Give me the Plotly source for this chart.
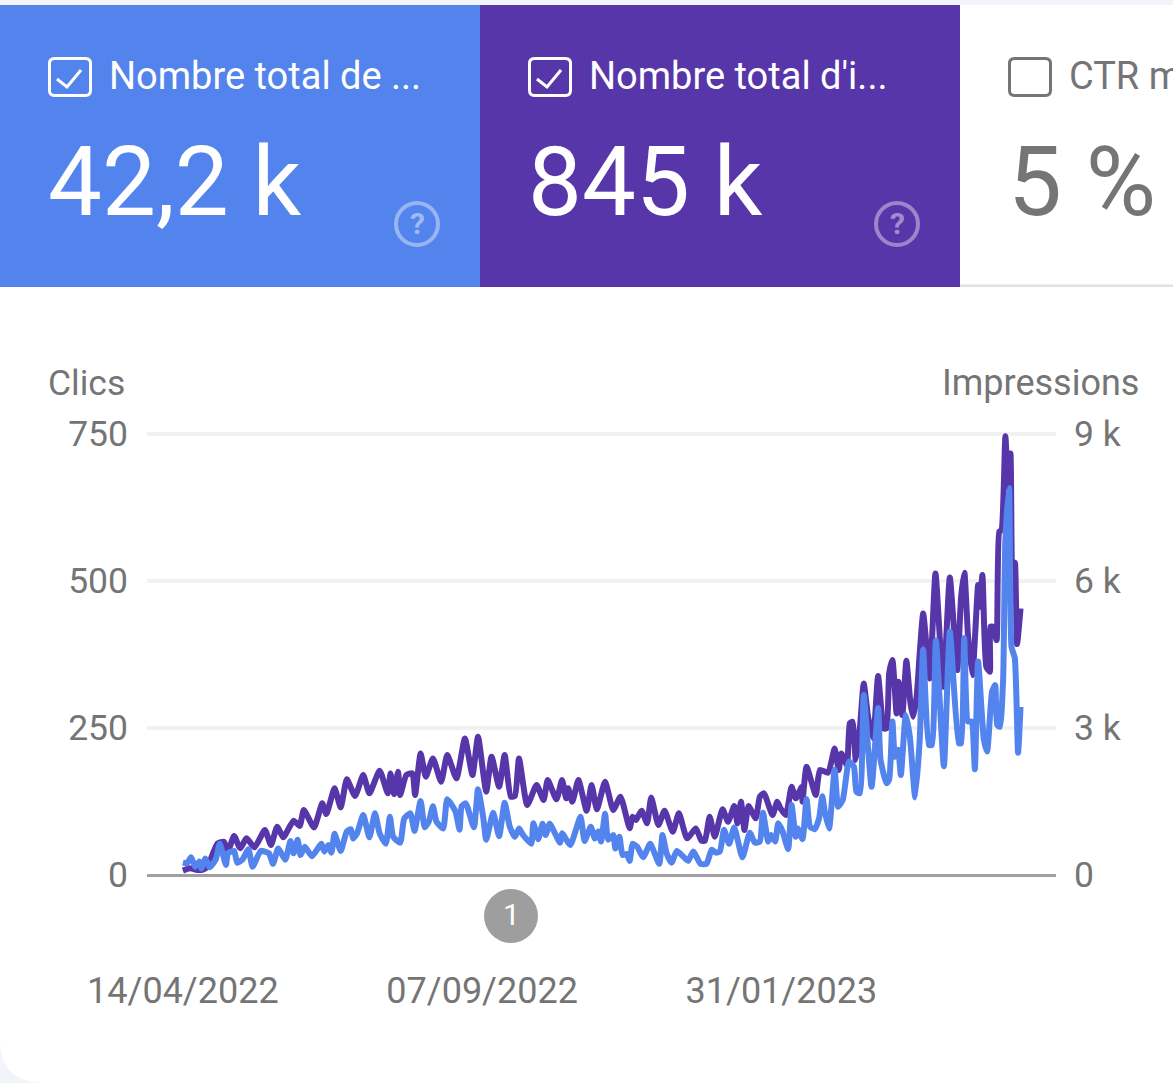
import pandas as pd
import plotly.graph_objects as go

# Values, day = days after the first date
start_date = pd.Timestamp("2022-04-14")

impressions_days = [
    0, 3.4, 7.5, 10, 12, 15, 17, 20, 22, 25, 28, 31, 35, 40, 43, 46, 49, 54, 57, 59, 64, 68, 70, 74, 77,
    80, 84, 88, 91, 96, 100, 101.3, 103, 105, 106, 109, 112, 113.3, 116, 118.5, 122, 126,
    129, 133.5, 137.6, 141.3, 144, 148, 150.6, 154.3, 157, 160, 162, 164, 168, 172.6, 176,
    178, 182.3, 185, 187, 188, 190, 193, 197, 199.4, 202, 206, 210, 213.5, 218, 219.4,
    221, 223.8, 226.5, 228.5, 232, 235, 239, 242, 246, 250.3, 253, 254.7, 257, 259.5, 263.3,
    266, 269, 270.6, 272.3, 274, 276, 279.5,
    281.5, 283.5, 287.7, 290, 291.6, 294.2, 297, 299, 302, 302.3, 304.3, 308.8, 310.8, 314.8, 318,
    320, 321.3, 324, 325.4, 326.7, 328.3, 330, 332.2, 334.3, 336.8, 339.2, 342, 343.3, 344.6, 346.2,
    348.2, 349.1, 351, 353, 355, 356.3, 358, 359.5, 361.2, 364.4, 367.2, 371, 374.2, 377.8, 379.7,
    381.3, 383.1, 385.2, 388, 388.8, 390.1, 392, 393.7, 394, 395.3, 397, 398.3, 399.4, 401.3, 402.6,
    403.8, 404.7, 406, 407, 408.7,
]
impressions = [
    90, 136, 100, 115, 170, 476, 646, 680, 496, 796, 544, 748, 564, 918, 612, 986, 768, 1108, 1000, 1326, 972, 1462, 1244, 1768, 1380,
    1952, 1612, 2040, 1666, 2128, 1666, 2074, 1652, 2108, 1632, 2040, 2074, 1632, 2482, 2006, 2380, 1904,
    2448, 1972, 2788, 2040, 2822, 1700, 2414, 1802, 2448, 1598, 1612, 2380, 1428, 1836, 1530,
    1938, 1544, 1938, 1564, 1768, 1496, 1938, 1312, 1836, 1340, 1904, 1326, 1598, 952, 1190,
    1122, 1312, 1054, 1584, 1020, 1312, 884, 1258, 748, 952, 700, 700, 1190, 782, 1340,
    1088, 1408, 1054, 1496, 918, 1408, 1156,
    1598, 1666, 1224, 1496, 1360, 1224, 1802, 1564, 1802, 1496, 2210, 1632, 2142, 2088, 2584,
    2142, 2482, 2244, 3094, 3128, 2346, 2822, 3910, 3230, 2788, 4060, 2992, 2992, 4114, 4386,
    3298, 3944, 3264, 4372, 3502, 3230, 3638, 4522, 5338, 4012, 6154, 3842, 6072, 4182, 5678,
    6168, 4862, 4080, 5916, 5474, 6120, 4250, 4148, 5066, 5066, 4794, 7004, 7038, 8956, 7922,
    8602, 5882, 6372, 4712, 5440,
]

clicks_days = [
    0, 2, 4, 6, 8, 9, 11, 13, 16, 18, 21, 22, 25, 26.5, 29, 32, 34, 38, 42, 44, 46.5, 50, 52.5, 54, 56, 57.4,
    59.5, 63, 67.6, 69, 71, 72.5, 74, 77, 80, 82, 83, 85, 88, 91, 93.7, 96, 99, 101, 102.6, 106, 108, 111, 113,
    116, 118, 120, 122, 123.7,
    127, 129, 133, 135, 136, 138, 142, 144, 146.5, 148, 151.4, 154.3, 157, 159.5, 162, 164, 166, 170, 171,
    173.4, 175.5, 177, 179, 184, 185, 189, 194, 196, 199, 201, 202.6, 204, 206, 207.5, 210, 211, 213, 214.5,
    216.5, 218, 219.4, 221.7, 224.6, 228, 232.4, 234, 236, 238.4, 241, 244, 246.5, 249, 252.6, 255.5, 258,
    260, 262, 264, 266.5, 269, 273, 276.6, 279,
    281.5, 283, 285.6, 287, 289, 290.5, 292.6, 295.3, 297, 299, 300, 302.3, 304.3, 306, 308.3, 310.4, 312, 313.2,
    315.3, 318, 319.7, 322, 325, 327.4, 328.6, 330.3, 332.2, 336, 339.2, 340.4, 343.3, 344.6, 346.2, 347.4, 349,
    350.3, 352.7, 354.7, 357.3, 359.5, 361.2, 364, 365.4, 367.4, 371.3, 374.2, 378.6, 379.7, 381.2, 383.1, 384.8,
    386.4, 388, 390.8, 392.4, 394.8, 396.3, 397.3, 398.6, 400.2, 401.3, 403.1, 404.3, 405.9, 407.5, 408.7,
]
clicks = [
    21, 20, 30, 14, 23, 11, 28, 13, 26, 53, 17, 37, 41, 21, 26, 44, 14, 41, 37, 19, 45, 26, 58, 37, 60, 34,
    48, 32, 53, 40, 51, 38, 70, 41, 74, 78, 62, 71, 102, 64, 105, 71, 53, 99, 65, 55, 96, 105, 75,
    126, 81, 91, 117, 91,
    79, 129, 108, 77, 117, 122, 81, 146, 99, 60, 106, 66, 123, 82, 65, 79, 68, 53, 88,
    61, 87, 68, 87, 55, 71, 51, 99, 58, 82, 62, 74, 57, 104, 60, 68, 45, 65, 34,
    36, 24, 53, 48, 30, 53, 19, 68, 37, 21, 41, 32, 24, 40, 19, 19, 43,
    38, 40, 77, 53, 81, 30, 72, 55,
    57, 106, 57, 68, 57, 88, 74, 44, 119, 65, 79, 61, 129, 82, 78, 96, 134, 108,
    79, 179, 116, 128, 193, 184, 142, 139, 306, 150, 284, 196, 156, 162, 261, 201, 213,
    170, 272, 235, 132, 230, 383, 221, 221, 399, 185, 414, 224, 224, 403, 261, 261,
    180, 363, 230, 210, 312, 323, 255, 252, 332, 570, 658, 388, 369, 208, 286,
]

date_ticks = ["2022-04-14", "2022-09-07", "2023-01-31"]
date_labels = ["14/04/2022", "07/09/2022", "31/01/2023"]
clicks_ticks = [0, 250, 500, 750]
clicks_labels = ["0", "250", "500", "750"]
impressions_ticks = [0, 3000, 6000, 9000]
impressions_labels = ["0", "3 k", "6 k", "9 k"]

BLUE = "#5383EC"
PURPLE = "#5736A9"
GREY = "#757575"
PAGE_BG = "#F1F4F9"
FONT = "Roboto"

# Plot area in the page, in pixels. It runs 10px past the 0 and top gridlines,
# plotly drops gridlines that sit right on the edge of the range
LEFT, RIGHT, TOP, BOTTOM = 147, 1056, 424, 885


def px(x):
    return (x - LEFT) / (RIGHT - LEFT)


def py(y):
    return (BOTTOM - y) / (BOTTOM - TOP)


def rect(x0, y0, x1, y1, fill, line=None, width=0):
    return dict(type="rect", xref="paper", yref="paper", x0=px(x0), x1=px(x1), y0=py(y0), y1=py(y1),
                fillcolor=fill, line=dict(color=line or fill, width=width), layer="below")


def path(points, color, width, fill="rgba(0,0,0,0)"):
    return dict(type="path", xref="paper", yref="paper", path=points, fillcolor=fill,
                line=dict(color=color, width=width), layer="above")


def rounded_box(x0, y0, x1, y1, r, color):
    # checkbox outline
    d = (f"M {px(x0 + r)} {py(y0)} L {px(x1 - r)} {py(y0)} Q {px(x1)} {py(y0)} {px(x1)} {py(y0 + r)} "
         f"L {px(x1)} {py(y1 - r)} Q {px(x1)} {py(y1)} {px(x1 - r)} {py(y1)} "
         f"L {px(x0 + r)} {py(y1)} Q {px(x0)} {py(y1)} {px(x0)} {py(y1 - r)} "
         f"L {px(x0)} {py(y0 + r)} Q {px(x0)} {py(y0)} {px(x0 + r)} {py(y0)} Z")
    return path(d, color, 3)


def check(x0, color):
    d = f"M {px(x0 + 9)} {py(79)} L {px(x0 + 19)} {py(87)} L {px(x0 + 33)} {py(70)}"
    return path(d, color, 3)


def circle(cx, cy, r, fill, line, width):
    return dict(type="circle", xref="paper", yref="paper", x0=px(cx - r), x1=px(cx + r),
                y0=py(cy + r), y1=py(cy - r), fillcolor=fill, line=dict(color=line, width=width), layer="above")


def label(text, x, y, size, color, anchor="left"):
    return dict(text=text, xref="paper", yref="paper", x=px(x), y=py(y), xanchor=anchor, yanchor="middle",
                showarrow=False, font=dict(family=FONT, size=size, color=color), align=anchor)


fig = go.Figure()

impressions_x = (start_date + pd.to_timedelta(impressions_days, unit="D")).strftime("%Y-%m-%d %H:%M").tolist()
clicks_x = (start_date + pd.to_timedelta(clicks_days, unit="D")).strftime("%Y-%m-%d %H:%M").tolist()

# Impressions go on the base axis so the clicks line stays on top
fig.add_trace(go.Scatter(x=impressions_x, y=impressions, mode="lines", name="Impressions",
                         line=dict(color=PURPLE, width=6, shape="spline", smoothing=0.5), yaxis="y"))
fig.add_trace(go.Scatter(x=clicks_x, y=clicks, mode="lines", name="Clics",
                         line=dict(color=BLUE, width=6, shape="spline", smoothing=0.5), yaxis="y2"))

shapes = [
    rect(0, 0, 1173, 5, PAGE_BG),
    rect(0, 5, 480, 287, BLUE),
    rect(480, 5, 960, 287, PURPLE),
    rect(960, 284.5, 1173, 287, "#DFE1E8"),
    path(f"M {px(0)} {py(1083)} L {px(0)} {py(1040)} Q {px(0)} {py(1083)} {px(45)} {py(1083)} Z",
         PAGE_BG, 0, PAGE_BG),
    rounded_box(49.5, 58.5, 90.5, 95.5, 5, "white"),
    check(48, "white"),
    rounded_box(529.5, 58.5, 570.5, 95.5, 5, "white"),
    check(528, "white"),
    rounded_box(1009.5, 58.5, 1050.5, 95.5, 5, GREY),
    circle(417, 224, 21, "rgba(0,0,0,0)", "rgba(255,255,255,0.4)", 4),
    circle(897, 224, 21, "rgba(0,0,0,0)", "rgba(255,255,255,0.4)", 4),
    circle(511, 916, 27, "#9E9E9E", "#9E9E9E", 0),
]

annotations = [
    label("Nombre total de ...", 107, 76, 38, "white"),
    label("42,2 k", 46, 182, 96, "white"),
    label("<b>?</b>", 417, 224, 30, "rgba(255,255,255,0.45)", "center"),
    label("Nombre total d'i...", 587, 76, 38, "white"),
    label("845 k", 526, 182, 96, "white"),
    label("<b>?</b>", 897, 224, 30, "rgba(255,255,255,0.45)", "center"),
    label("CTR m", 1067, 76, 38, GREY),
    label("5 %", 1006, 182, 96, GREY),
    label("Clics", 46, 383, 35.5, GREY),
    label("Impressions", 1141, 383, 36, GREY, "right"),
    label("1", 511, 914, 30, "white", "center"),
]

y_tick_font = dict(family=FONT, size=35.5, color=GREY)

fig.update_layout(
    width=1173,
    height=1083,
    margin=dict(l=LEFT, r=1173 - RIGHT, t=TOP, b=1083 - BOTTOM),
    paper_bgcolor="white",
    plot_bgcolor="white",
    showlegend=False,
    shapes=shapes,
    annotations=annotations,
    xaxis=dict(
        type="date",
        range=["2022-03-27 12:00", "2023-06-14 00:00"],
        tickvals=date_ticks,
        ticktext=date_labels,
        tickfont=dict(family=FONT, size=36, color=GREY),
        ticks="",
        ticklabelstandoff=81,
        showgrid=False,
        zeroline=False,
        showline=False,
    ),
    yaxis=dict(
        side="right",
        range=[-204, 9204],
        tickvals=impressions_ticks,
        ticktext=impressions_labels,
        tickfont=y_tick_font,
        ticks="",
        ticklabelstandoff=17,
        gridcolor="#F1F1F1",
        gridwidth=4,
        zeroline=True,
        zerolinecolor="#A0A0A0",
        zerolinewidth=3,
    ),
    yaxis2=dict(
        side="left",
        overlaying="y",
        range=[-17, 767],
        tickvals=clicks_ticks,
        ticktext=clicks_labels,
        tickfont=y_tick_font,
        ticks="",
        ticklabelstandoff=18,
        showgrid=False,
        zeroline=False,
    ),
)

fig.write_html("out.html", config=dict(displayModeBar=False), post_script="document.body.style.margin='0';")
